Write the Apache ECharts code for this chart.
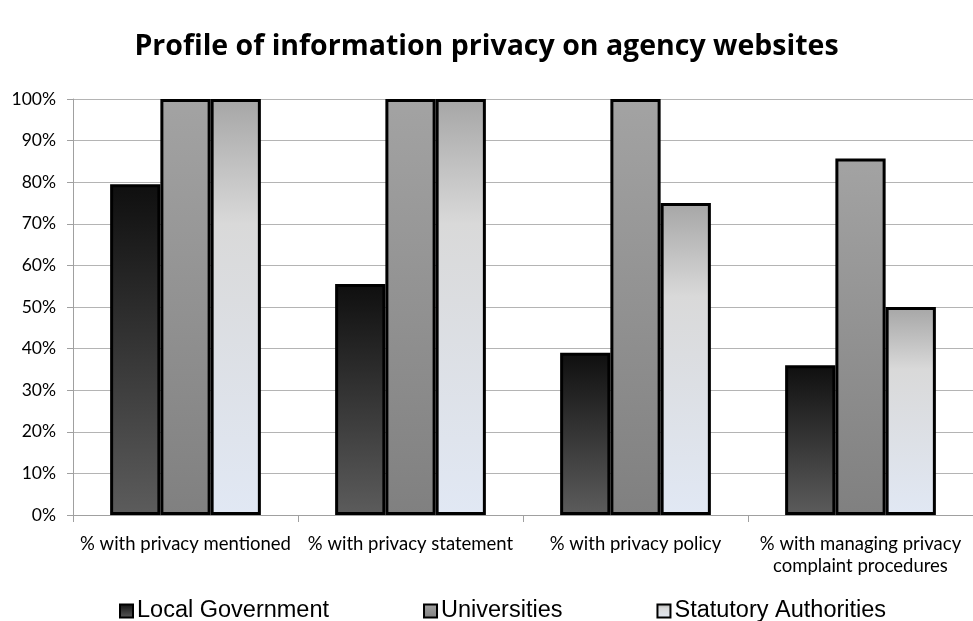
<!DOCTYPE html>
<html><head><meta charset="utf-8">
<script src="https://cdn.jsdelivr.net/npm/echarts@6/dist/echarts.min.js"></script>
<style>html,body{margin:0;padding:0;background:#fff}#c{width:973px;height:621px}</style>
</head><body><div id="c"></div>
<script>
const categories = ['% with privacy mentioned', '% with privacy statement', '% with privacy policy', '% with managing privacy complaint procedures'];
const seriesNames = ['Local Government', 'Universities', 'Statutory Authorities'];
const localGov = [79.5, 55.5, 39, 36];
const universities = [100, 100, 100, 85.7];
const statutory = [100, 100, 75, 50];
const yTicks = [0, 10, 20, 30, 40, 50, 60, 70, 80, 90, 100];

const G = echarts.graphic.LinearGradient;
const fills = [
  new G(0,0,0,1,[{offset:0,color:'#0f0f0f'},{offset:1,color:'#5c5c5c'}]),
  new G(0,0,0,1,[{offset:0,color:'#a3a3a3'},{offset:1,color:'#808080'}]),
  new G(0,0,0,1,[{offset:0,color:'#a6a6a6'},{offset:0.3,color:'#d9d9d9'},{offset:1,color:'#e1e8f4'}])
];
const data = [localGov, universities, statutory];

const chart = echarts.init(document.getElementById('c'));
chart.setOption({
  animation:false,
  title:{text:'Profile of information privacy on agency websites',left:'center',top:27,
    textStyle:{fontFamily:'Open Sans',fontWeight:'bold',fontSize:28.5,color:'#000'}},
  grid:{left:73,right:0,top:99,bottom:106},
  legend:{left:114,top:594,itemWidth:13,itemHeight:13,itemGap:94,
    textStyle:{fontFamily:'Liberation Sans',fontSize:23.5,color:'#000',padding:[0,0,0,-1]},
    data:seriesNames.map((n,i)=>({name:n,icon:'rect',itemStyle:{color:fills[i],borderColor:'#000',borderWidth:2}}))},
  xAxis:{type:'category',data:categories,
    axisLine:{lineStyle:{color:'#a0a0a0'}},
    axisTick:{show:true,length:7,lineStyle:{color:'#a0a0a0'}},
    axisLabel:{interval:0,fontFamily:'Lato',fontSize:18.5,color:'#000',margin:18,lineHeight:22,
      formatter:v=>v==='% with managing privacy complaint procedures'?'% with managing privacy\ncomplaint procedures':v}},
  yAxis:{type:'value',min:0,max:100,interval:10,
    axisLine:{show:true,lineStyle:{color:'#a0a0a0'}},
    axisTick:{show:true,length:6,lineStyle:{color:'#a0a0a0'}},
    splitLine:{lineStyle:{color:'#b4b4b4'}},
    axisLabel:{fontFamily:'Lato',fontSize:17.5,color:'#000',margin:17,formatter:v=>yTicks.includes(v)?v+'%':''}},
  series:seriesNames.map((n,i)=>({name:n,type:'bar',data:data[i],barGap:'0%',barCategoryGap:'33%',
    itemStyle:{color:fills[i],borderColor:'#000',borderWidth:3}}))
});
</script></body></html>
